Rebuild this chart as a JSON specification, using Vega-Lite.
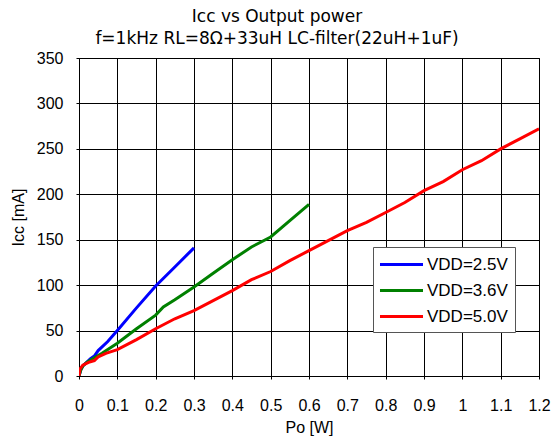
{
  "$schema": "https://vega.github.io/schema/vega-lite/v6.json",
  "width": 460,
  "height": 318,
  "autosize": "none",
  "padding": {"left": 79, "top": 58, "right": 13, "bottom": 61},
  "background": "white",
  "title": {
    "text": "Icc vs Output power",
    "subtitle": "f=1kHz RL=8Ω+33uH  LC-filter(22uH+1uF)",
    "anchor": "middle",
    "dx": -32,
    "offset": 2,
    "font": "DejaVu Sans",
    "fontSize": 17,
    "fontWeight": "normal",
    "color": "#000",
    "subtitleFont": "DejaVu Sans",
    "subtitleFontSize": 17,
    "subtitleColor": "#000",
    "subtitlePadding": 5
  },
  "config": {
    "view": {"stroke": "#000", "strokeWidth": 1},
    "axis": {
      "labelFont": "Liberation Sans",
      "labelFontSize": 16,
      "labelColor": "#000",
      "titleFont": "Liberation Sans",
      "titleFontSize": 16,
      "titleFontWeight": "normal",
      "titleColor": "#000",
      "gridColor": "#000",
      "gridOpacity": 1,
      "gridWidth": 1,
      "domainColor": "#000",
      "tickColor": "#000",
      "tickSize": 3
    }
  },
  "data": {
    "values": [
      {"po": 0, "icc": 0, "s": "VDD=2.5V"},
      {"po": 0.005, "icc": 7, "s": "VDD=2.5V"},
      {"po": 0.01, "icc": 11, "s": "VDD=2.5V"},
      {"po": 0.02, "icc": 15, "s": "VDD=2.5V"},
      {"po": 0.03, "icc": 19, "s": "VDD=2.5V"},
      {"po": 0.04, "icc": 22, "s": "VDD=2.5V"},
      {"po": 0.05, "icc": 28, "s": "VDD=2.5V"},
      {"po": 0.075, "icc": 38, "s": "VDD=2.5V"},
      {"po": 0.1, "icc": 50, "s": "VDD=2.5V"},
      {"po": 0.15, "icc": 75, "s": "VDD=2.5V"},
      {"po": 0.2, "icc": 99, "s": "VDD=2.5V"},
      {"po": 0.25, "icc": 120, "s": "VDD=2.5V"},
      {"po": 0.3, "icc": 141, "s": "VDD=2.5V"},
      {"po": 0, "icc": 0, "s": "VDD=3.6V"},
      {"po": 0.005, "icc": 7, "s": "VDD=3.6V"},
      {"po": 0.01, "icc": 11, "s": "VDD=3.6V"},
      {"po": 0.02, "icc": 15, "s": "VDD=3.6V"},
      {"po": 0.04, "icc": 20, "s": "VDD=3.6V"},
      {"po": 0.06, "icc": 25, "s": "VDD=3.6V"},
      {"po": 0.1, "icc": 36, "s": "VDD=3.6V"},
      {"po": 0.15, "icc": 52, "s": "VDD=3.6V"},
      {"po": 0.2, "icc": 67, "s": "VDD=3.6V"},
      {"po": 0.22, "icc": 76, "s": "VDD=3.6V"},
      {"po": 0.25, "icc": 84, "s": "VDD=3.6V"},
      {"po": 0.3, "icc": 98, "s": "VDD=3.6V"},
      {"po": 0.35, "icc": 113, "s": "VDD=3.6V"},
      {"po": 0.4, "icc": 128, "s": "VDD=3.6V"},
      {"po": 0.45, "icc": 142, "s": "VDD=3.6V"},
      {"po": 0.5, "icc": 153, "s": "VDD=3.6V"},
      {"po": 0.55, "icc": 171, "s": "VDD=3.6V"},
      {"po": 0.6, "icc": 189, "s": "VDD=3.6V"},
      {"po": 0, "icc": 0, "s": "VDD=5.0V"},
      {"po": 0.003, "icc": 8, "s": "VDD=5.0V"},
      {"po": 0.01, "icc": 12, "s": "VDD=5.0V"},
      {"po": 0.025, "icc": 15, "s": "VDD=5.0V"},
      {"po": 0.04, "icc": 17, "s": "VDD=5.0V"},
      {"po": 0.05, "icc": 21, "s": "VDD=5.0V"},
      {"po": 0.07, "icc": 25, "s": "VDD=5.0V"},
      {"po": 0.1, "icc": 29, "s": "VDD=5.0V"},
      {"po": 0.15, "icc": 40, "s": "VDD=5.0V"},
      {"po": 0.2, "icc": 52, "s": "VDD=5.0V"},
      {"po": 0.25, "icc": 63, "s": "VDD=5.0V"},
      {"po": 0.3, "icc": 72, "s": "VDD=5.0V"},
      {"po": 0.35, "icc": 83, "s": "VDD=5.0V"},
      {"po": 0.4, "icc": 94, "s": "VDD=5.0V"},
      {"po": 0.45, "icc": 106, "s": "VDD=5.0V"},
      {"po": 0.5, "icc": 115, "s": "VDD=5.0V"},
      {"po": 0.55, "icc": 127, "s": "VDD=5.0V"},
      {"po": 0.6, "icc": 138, "s": "VDD=5.0V"},
      {"po": 0.65, "icc": 149, "s": "VDD=5.0V"},
      {"po": 0.7, "icc": 160, "s": "VDD=5.0V"},
      {"po": 0.75, "icc": 169, "s": "VDD=5.0V"},
      {"po": 0.8, "icc": 180, "s": "VDD=5.0V"},
      {"po": 0.85, "icc": 191, "s": "VDD=5.0V"},
      {"po": 0.9, "icc": 204, "s": "VDD=5.0V"},
      {"po": 0.95, "icc": 214, "s": "VDD=5.0V"},
      {"po": 1.0, "icc": 227, "s": "VDD=5.0V"},
      {"po": 1.05, "icc": 237, "s": "VDD=5.0V"},
      {"po": 1.1, "icc": 250, "s": "VDD=5.0V"},
      {"po": 1.15, "icc": 261, "s": "VDD=5.0V"},
      {"po": 1.2, "icc": 272, "s": "VDD=5.0V"}
    ]
  },
  "mark": {"type": "line", "strokeWidth": 3, "clip": true},
  "encoding": {
    "x": {
      "field": "po",
      "type": "quantitative",
      "title": "Po [W]",
      "scale": {"domain": [0, 1.2], "nice": false},
      "axis": {
        "values": [0, 0.1, 0.2, 0.3, 0.4, 0.5, 0.6, 0.7, 0.8, 0.9, 1, 1.1, 1.2],
        "format": "~g",
        "labelPadding": 18,
        "titlePadding": 6,
        "labelFlush": false,
        "labelOverlap": false
      }
    },
    "y": {
      "field": "icc",
      "type": "quantitative",
      "title": "Icc [mA]",
      "scale": {"domain": [0, 350], "nice": false},
      "axis": {
        "values": [0, 50, 100, 150, 200, 250, 300, 350],
        "labelPadding": 13,
        "titlePadding": 10,
        "labelFlush": false,
        "labelOverlap": false
      }
    },
    "color": {
      "field": "s",
      "type": "nominal",
      "scale": {"domain": ["VDD=2.5V", "VDD=3.6V", "VDD=5.0V"], "range": ["#0000FF", "#008000", "#FF0000"]},
      "legend": {
        "title": null,
        "orient": "none",
        "legendX": 294,
        "legendY": 189,
        "symbolType": "M-2.5,0H2.5",
        "symbolSize": 296,
        "symbolStrokeWidth": 3,
        "symbolOffset": 11,
        "labelFont": "Liberation Sans",
        "labelFontSize": 17,
        "labelColor": "#000",
        "labelOffset": 15,
        "rowPadding": 7,
        "padding": 7,
        "strokeColor": "#555",
        "fillColor": "white"
      }
    }
  }
}
